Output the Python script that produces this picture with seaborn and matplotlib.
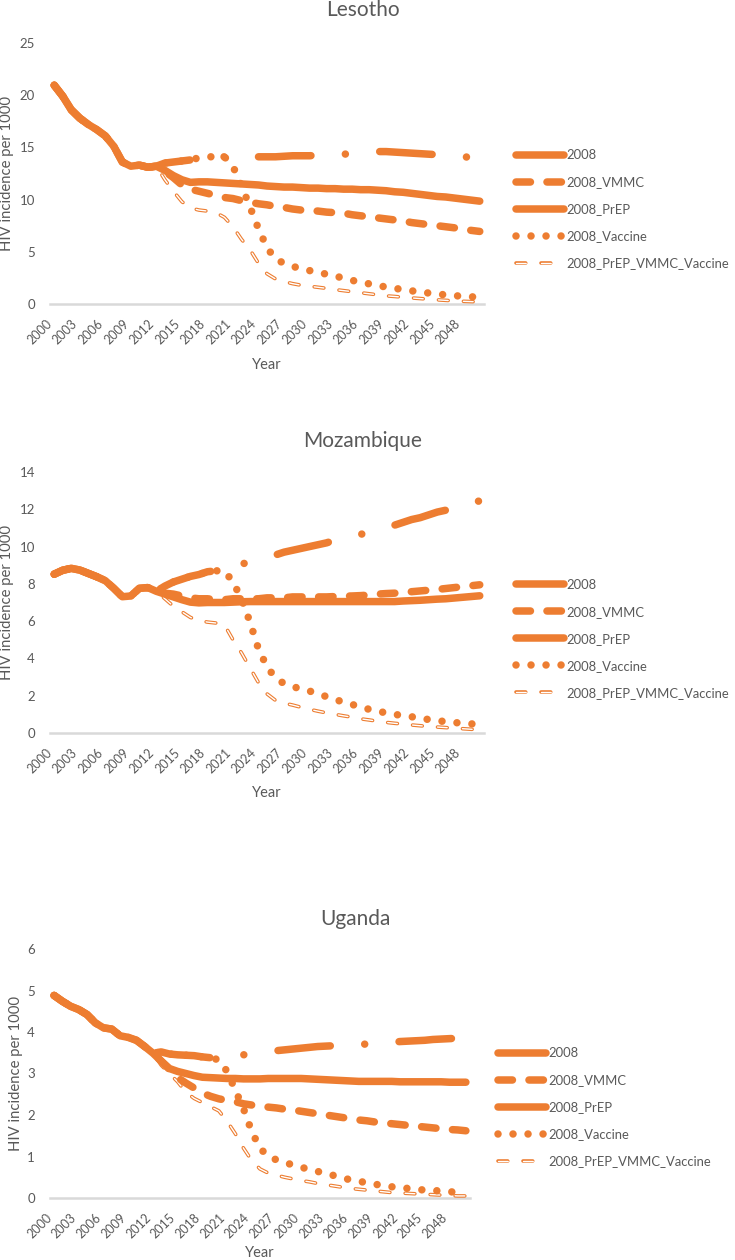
import numpy as np
import pandas as pd
import matplotlib
matplotlib.use("Agg")
import matplotlib.pyplot as plt
import seaborn as sns
from matplotlib.legend_handler import HandlerTuple

# ---------------- data ----------------
years = list(range(2000, 2051))
tick_years = list(range(2000, 2049, 3))
series_names = ["2008", "2008_VMMC", "2008_PrEP", "2008_Vaccine", "2008_PrEP_VMMC_Vaccine"]
countries = ["Lesotho", "Mozambique", "Uganda"]

# shared history 2000-2012
lesotho_hist = [20.95, 19.9, 18.6, 17.8, 17.2, 16.7, 16.1, 15.1, 13.6, 13.2, 13.3, 13.1, 13.2]
mozambique_hist = [8.52, 8.73, 8.83, 8.74, 8.56, 8.38, 8.17, 7.76, 7.31, 7.35, 7.76, 7.8, 7.6]
uganda_hist = [4.88, 4.74, 4.62, 4.54, 4.42, 4.22, 4.1, 4.07, 3.91, 3.87, 3.8, 3.65, 3.49]

# projections 2013-2050
lesotho_2008 = [13.5, 13.6, 13.7, 13.8, 14.0, 14.1, 14.1, 14.1, 14.1, 14.1, 14.1, 14.1, 14.1, 14.1,
                14.15, 14.2, 14.2, 14.2, 14.25, 14.3, 14.3, 14.35, 14.4, 14.5, 14.55, 14.6, 14.6, 14.55,
                14.5, 14.45, 14.4, 14.35, 14.3, 14.2, 14.15, 14.1, 14.05, 14.0]
lesotho_vmmc = [12.7, 12.1, 11.4, 11.0, 10.8, 10.6, 10.4, 10.2, 10.1, 9.9, 9.75, 9.6, 9.5, 9.35,
                9.25, 9.1, 9.0, 8.95, 8.9, 8.8, 8.75, 8.7, 8.55, 8.45, 8.35, 8.25, 8.15, 8.05,
                7.95, 7.8, 7.7, 7.6, 7.5, 7.4, 7.3, 7.2, 7.05, 6.95]
lesotho_prep = [12.8, 12.3, 11.9, 11.65, 11.7, 11.7, 11.65, 11.6, 11.55, 11.5, 11.45, 11.4, 11.3, 11.25,
                11.2, 11.2, 11.15, 11.1, 11.1, 11.05, 11.05, 11.0, 11.0, 10.95, 10.95, 10.9, 10.85, 10.75,
                10.7, 10.6, 10.5, 10.4, 10.3, 10.25, 10.15, 10.05, 9.95, 9.85]
lesotho_vaccine = [13.5, 13.6, 13.7, 13.8, 14.0, 14.1, 14.1, 14.1, 13.2, 11.3, 9.3, 7.2, 5.4, 4.3,
                   3.9, 3.6, 3.4, 3.2, 3.05, 2.85, 2.7, 2.45, 2.26, 2.1, 1.93, 1.78, 1.62, 1.5,
                   1.38, 1.26, 1.15, 1.05, 0.96, 0.87, 0.8, 0.74, 0.69, 0.65]
lesotho_combo = [11.9, 10.8, 9.8, 9.2, 9.0, 8.9, 8.75, 8.3, 7.4, 6.2, 5.2, 3.9, 2.9, 2.4,
                 2.15, 1.95, 1.8, 1.7, 1.6, 1.5, 1.38, 1.28, 1.18, 1.08, 0.98, 0.88, 0.78, 0.72,
                 0.65, 0.58, 0.52, 0.46, 0.4, 0.35, 0.3, 0.26, 0.23, 0.2]

mozambique_2008 = [7.88, 8.1, 8.25, 8.4, 8.5, 8.65, 8.7, 8.8, 8.9, 9.05, 9.2, 9.3, 9.4, 9.55,
                   9.7, 9.8, 9.9, 10.0, 10.1, 10.2, 10.35, 10.45, 10.55, 10.65, 10.8, 10.9, 11.0, 11.15,
                   11.3, 11.45, 11.55, 11.7, 11.85, 11.95, 12.1, 12.25, 12.35, 12.45]
mozambique_vmmc = [7.5, 7.45, 7.35, 7.25, 7.2, 7.2, 7.15, 7.15, 7.2, 7.2, 7.2, 7.2, 7.25, 7.25,
                   7.25, 7.3, 7.3, 7.3, 7.3, 7.3, 7.32, 7.34, 7.35, 7.37, 7.4, 7.45, 7.48, 7.5,
                   7.55, 7.58, 7.62, 7.66, 7.7, 7.75, 7.8, 7.85, 7.9, 7.95]
mozambique_prep = [7.45, 7.3, 7.15, 7.02, 6.98, 7.0, 7.0, 7.0, 7.02, 7.04, 7.05, 7.05, 7.05, 7.05,
                   7.05, 7.05, 7.05, 7.05, 7.05, 7.05, 7.05, 7.05, 7.05, 7.05, 7.05, 7.05, 7.05, 7.05,
                   7.08, 7.1, 7.12, 7.15, 7.18, 7.2, 7.24, 7.28, 7.32, 7.36]
mozambique_vaccine = [7.88, 8.1, 8.25, 8.4, 8.5, 8.65, 8.7, 8.7, 8.1, 7.2, 5.95, 4.5, 3.55, 2.95,
                      2.65, 2.5, 2.35, 2.25, 2.1, 1.95, 1.8, 1.65, 1.53, 1.4, 1.27, 1.17, 1.08, 1.0,
                      0.93, 0.87, 0.8, 0.72, 0.66, 0.61, 0.56, 0.53, 0.49, 0.46]
mozambique_combo = [7.2, 6.8, 6.5, 6.2, 6.03, 5.95, 5.9, 5.8, 5.0, 4.3, 3.5, 2.7, 2.1, 1.75,
                    1.6, 1.5, 1.38, 1.27, 1.17, 1.08, 1.0, 0.92, 0.85, 0.76, 0.7, 0.63, 0.57, 0.52,
                    0.48, 0.43, 0.39, 0.35, 0.32, 0.29, 0.26, 0.23, 0.2, 0.18]

uganda_2008 = [3.52, 3.47, 3.45, 3.44, 3.43, 3.4, 3.38, 3.35, 3.38, 3.42, 3.45, 3.48, 3.5, 3.52,
               3.55, 3.57, 3.59, 3.61, 3.63, 3.65, 3.66, 3.67, 3.68, 3.69, 3.7, 3.71, 3.72, 3.74,
               3.75, 3.77, 3.78, 3.79, 3.8, 3.82, 3.83, 3.84, 3.85, 3.86]
uganda_vmmc = [3.3, 3.1, 2.9, 2.77, 2.65, 2.53, 2.45, 2.39, 2.35, 2.32, 2.27, 2.24, 2.21, 2.19,
               2.17, 2.14, 2.12, 2.09, 2.06, 2.03, 2.0, 1.97, 1.94, 1.91, 1.88, 1.86, 1.83, 1.81,
               1.79, 1.77, 1.75, 1.73, 1.71, 1.69, 1.67, 1.65, 1.64, 1.62]
uganda_prep = [3.3, 3.12, 3.05, 3.0, 2.95, 2.91, 2.9, 2.89, 2.88, 2.88, 2.87, 2.87, 2.87, 2.88,
               2.88, 2.88, 2.88, 2.88, 2.87, 2.86, 2.85, 2.84, 2.83, 2.82, 2.81, 2.81, 2.81, 2.81,
               2.81, 2.8, 2.8, 2.8, 2.8, 2.8, 2.8, 2.79, 2.79, 2.79]
uganda_vaccine = [3.52, 3.47, 3.45, 3.44, 3.43, 3.4, 3.38, 3.33, 3.05, 2.6, 2.15, 1.6, 1.2, 1.0,
                  0.92, 0.85, 0.8, 0.74, 0.69, 0.64, 0.59, 0.54, 0.48, 0.44, 0.4, 0.37, 0.33, 0.3,
                  0.27, 0.25, 0.23, 0.21, 0.19, 0.18, 0.17, 0.15, 0.14, 0.13]
uganda_combo = [3.2, 3.0, 2.8, 2.55, 2.4, 2.3, 2.2, 2.1, 1.85, 1.55, 1.2, 0.9, 0.7, 0.6,
                0.55, 0.5, 0.46, 0.42, 0.39, 0.35, 0.32, 0.29, 0.26, 0.23, 0.21, 0.19, 0.17, 0.15,
                0.13, 0.12, 0.11, 0.1, 0.09, 0.08, 0.07, 0.06, 0.05, 0.05]

y_max = [25, 14, 6]
y_step = [5, 2, 1]

# ---------------- style ----------------
sns.set_style("white")
plt.rcParams["font.family"] = ["Lato", "DejaVu Sans"]
plt.rcParams["lines.scale_dashes"] = False

ORANGE = "#ED7D31"
TEXT = "#595959"
AXIS = "#D9D9D9"
LW = 5.4

line_styles = {
    "2008": (0, (37.8, 24.8, 0.01, 24.8)),
    "2008_VMMC": (0, (10.4, 11.9)),
    "2008_PrEP": "-",
    "2008_Vaccine": (0, (0.01, 10.8)),
}
COMBO_LS = (0, (7.0, 11.0))

W, H = 735, 1260
fig = plt.figure(figsize=(W / 100, H / 100), dpi=100)

hist = {"Lesotho": lesotho_hist, "Mozambique": mozambique_hist, "Uganda": uganda_hist}
proj = {
    "Lesotho": [lesotho_2008, lesotho_vmmc, lesotho_prep, lesotho_vaccine, lesotho_combo],
    "Mozambique": [mozambique_2008, mozambique_vmmc, mozambique_prep, mozambique_vaccine, mozambique_combo],
    "Uganda": [uganda_2008, uganda_vmmc, uganda_prep, uganda_vaccine, uganda_combo],
}

# layout in pixels: (left, top, right, bottom), title (x, baseline), legend (left, center y), ylabel x, xlabel y
layout = {
    "Lesotho": dict(box=(50, 43, 484, 304), title=(363, 16), legend=(516, 209.5), ylab=7, xlab=365),
    "Mozambique": dict(box=(50, 472, 484, 733), title=(363, 447), legend=(516, 639), ylab=7, xlab=793),
    "Uganda": dict(box=(50, 949, 470, 1198), title=(355, 925), legend=(498, 1107.5), ylab=16, xlab=1253),
}


def style_line(line, lw, ls, z):
    line.set_linewidth(lw)
    line.set_linestyle(ls)
    line.set_dash_capstyle("round")
    line.set_solid_capstyle("round")
    line.set_dash_joinstyle("round")
    line.set_solid_joinstyle("round")
    line.set_zorder(z)
    return line


for ci, country in enumerate(countries):
    L = layout[country]
    l, t, r, b = L["box"]
    ax = fig.add_axes([l / W, 1 - b / H, (r - l) / W, (b - t) / H])

    df = pd.DataFrame({"Year": years})
    for name, vals in zip(series_names, proj[country]):
        df[name] = hist[country] + vals

    handles = []
    # combined intervention series (hollow dashed line) sits underneath
    sns.lineplot(data=df, x="Year", y=series_names[4], ax=ax, color=ORANGE, legend=False)
    c_out = style_line(ax.lines[-1], 2.6, COMBO_LS, 1.5)
    sns.lineplot(data=df, x="Year", y=series_names[4], ax=ax, color="white", legend=False)
    c_in = style_line(ax.lines[-1], 1.0, COMBO_LS, 1.6)

    for k, name in enumerate(series_names[:4]):
        sns.lineplot(data=df, x="Year", y=name, ax=ax, color=ORANGE, legend=False)
        handles.append(style_line(ax.lines[-1], LW, line_styles[name], 2 + k * 0.1))
    handles.append((c_out, c_in))

    ax.set_xlim(1999.5, 2050.5)
    ax.set_ylim(0, y_max[ci])
    ax.set_xticks(tick_years)
    ax.set_xticklabels([str(y) for y in tick_years], rotation=45, ha="right", va="top")
    yt = np.arange(0, y_max[ci] + 0.001, y_step[ci])
    ax.set_yticks(yt)
    ax.set_yticklabels([str(int(v)) for v in yt])
    ax.tick_params(axis="both", length=0, labelcolor=TEXT)
    ax.tick_params(axis="x", pad=9.5, labelsize=9.0)
    ax.tick_params(axis="y", pad=10.8, labelsize=9.5)
    for s in ["top", "right", "left"]:
        ax.spines[s].set_visible(False)
    ax.spines["bottom"].set_color(AXIS)
    ax.spines["bottom"].set_linewidth(1.8)
    ax.spines["bottom"].set_zorder(1)
    ax.grid(False)

    ax.set_xlabel("Year", fontsize=10.5, color=TEXT, va="center")
    ax.xaxis.set_label_coords(0.5, -(L["xlab"] - b) / (b - t))
    ax.set_ylabel("HIV incidence per 1000", fontsize=10.7, color=TEXT, va="center")
    ax.yaxis.set_label_coords((L["ylab"] - l) / (r - l), 0.5)

    tx, ty = L["title"]
    fig.text(tx / W, 1 - ty / H, country, fontsize=15, color=TEXT, ha="center", va="baseline")

    lx, ly = L["legend"]
    ax.legend(handles, series_names, loc="center left",
              bbox_to_anchor=(lx / W, 1 - ly / H), bbox_transform=fig.transFigure,
              frameon=False, fontsize=9.4, labelcolor=TEXT, handlelength=3.68,
              handletextpad=0.15, labelspacing=1.15, borderpad=0, borderaxespad=0,
              handler_map={tuple: HandlerTuple(ndivide=1, pad=0)})

fig.savefig("out.png", dpi=100)
